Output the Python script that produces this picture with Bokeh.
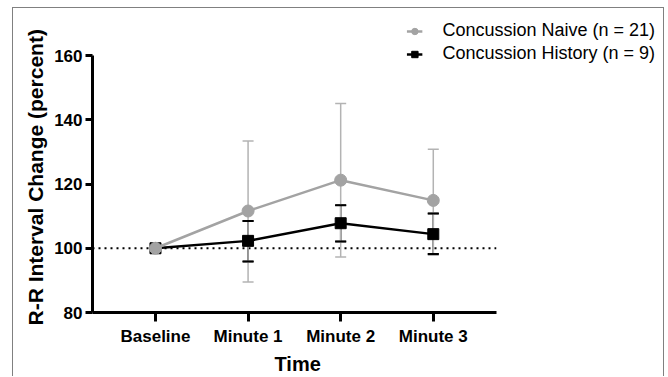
from bokeh.plotting import figure
from bokeh.models import (ColumnDataSource, Whisker, TeeHead, FixedTicker, Range1d,
                          Legend, LegendItem, Title)
from bokeh.embed import file_html
from bokeh.resources import INLINE

nan = float("nan")

# ---- data ----
categories = ["Baseline", "Minute 1", "Minute 2", "Minute 3"]
naive_mean = [100.0, 111.6, 121.2, 114.9]
naive_upper = [nan, 133.4, 145.1, 130.8]
naive_lower = [nan, 89.5, 97.3, 97.8]
hist_mean = [100.0, 102.3, 107.8, 104.4]
hist_upper = [nan, 108.5, 113.4, 110.8]
hist_lower = [nan, 95.9, 102.1, 98.2]
y_ticks = [80, 100, 120, 140, 160]
reference_level = 100
naive_label = "Concussion Naive (n = 21)"
hist_label = "Concussion History (n = 9)"
y_title = "R-R Interval Change (percent)"
x_title = "Time"

FONT = "Liberation Sans"
GRAY = "#a3a3a3"
GRAY_ERR = "#b3b3b3"

x = list(range(len(categories)))
x_lo, x_hi = -0.68, len(categories) - 1 + 0.68

naive_src = ColumnDataSource(dict(x=x, y=naive_mean, upper=naive_upper, lower=naive_lower))
hist_src = ColumnDataSource(dict(x=x, y=hist_mean, upper=hist_upper, lower=hist_lower))

p = figure(width=652, height=369, output_backend="svg", toolbar_location=None,
           x_range=Range1d(x_lo, 5.486), y_range=Range1d(80, 173.4),
           min_border_left=79, min_border_right=2, min_border_top=4, min_border_bottom=65)
p.styles = {"margin-left": "12px", "margin-top": "7px",
            "border-left": "1px solid #808080", "border-top": "1px solid #808080",
            "border-right": "1px solid #808080"}
p.grid.visible = False
p.outline_line_color = None

# reference dotted line
p.segment(x0=[x_lo], y0=[reference_level], x1=[x_hi], y1=[reference_level],
          line_color="black", line_width=2, line_dash="2 4", level="underlay")

# whiskers
def whisker(src, color, width, body_alpha=1.0):
    w = Whisker(base="x", upper="upper", lower="lower", source=src,
                line_color=color, line_width=width, line_alpha=body_alpha,
                upper_head=TeeHead(size=11, line_color=color, line_width=width),
                lower_head=TeeHead(size=11, line_color=color, line_width=width))
    p.add_layout(w)

whisker(hist_src, "black", 1.5)
whisker(naive_src, GRAY_ERR, 1.5)
whisker(hist_src, "black", 2, body_alpha=0.0)

bl = p.line("x", "y", source=hist_src, line_color="black", line_width=2.5)
bs = p.scatter("x", "y", source=hist_src, marker="square", size=11, color="black")
gl = p.line("x", "y", source=naive_src, line_color=GRAY, line_width=2.5)
gc = p.scatter("x", "y", source=naive_src, marker="circle", size=12, color=GRAY)

# axes
xa = p.xaxis[0]
xa.ticker = FixedTicker(ticks=x)
xa.major_label_overrides = {i: c for i, c in zip(x, categories)}
xa.bounds = (x_lo, x_hi)
xa.minor_tick_line_color = None
xa.axis_line_width = 3
xa.major_tick_line_width = 3
xa.major_tick_out = 9
xa.major_tick_in = 0
xa.major_label_standoff = 5
xa.major_label_text_font = FONT
xa.major_label_text_font_style = "bold"
xa.major_label_text_font_size = "17px"
xa.major_label_text_color = "black"

ya = p.yaxis[0]
ya.ticker = FixedTicker(ticks=y_ticks)
ya.bounds = (y_ticks[0], y_ticks[-1])
ya.minor_tick_line_color = None
ya.axis_line_width = 3
ya.major_tick_line_width = 3
ya.major_tick_out = 7
ya.major_tick_in = 0
ya.major_label_standoff = 3
ya.major_label_text_font = FONT
ya.major_label_text_font_style = "bold"
ya.major_label_text_font_size = "17px"
ya.major_label_text_color = "black"

# x axis title, centred under the axis span
p.add_layout(Title(text=x_title, align="left", offset=182, standoff=5,
                   text_font=FONT, text_font_style="bold", text_font_size="20px",
                   text_color="black"), "below")

# y axis title, placed along the 80-160 axis span
p.add_layout(Title(text=y_title, align="left", offset=-13, standoff=10,
                   text_font=FONT, text_font_style="bold", text_font_size="21px",
                   text_color="black"), "left")

legend = Legend(items=[LegendItem(label=naive_label, renderers=[gl, gc]),
                       LegendItem(label=hist_label, renderers=[bl, bs])],
                location="top_right", margin=8, padding=6, spacing=2,
                glyph_width=16, glyph_height=20, label_standoff=20,
                label_text_font=FONT, label_text_font_size="18px",
                label_text_color="black",
                border_line_color=None, background_fill_alpha=0)
p.add_layout(legend)

open("out.html", "w").write(file_html(p, INLINE))
